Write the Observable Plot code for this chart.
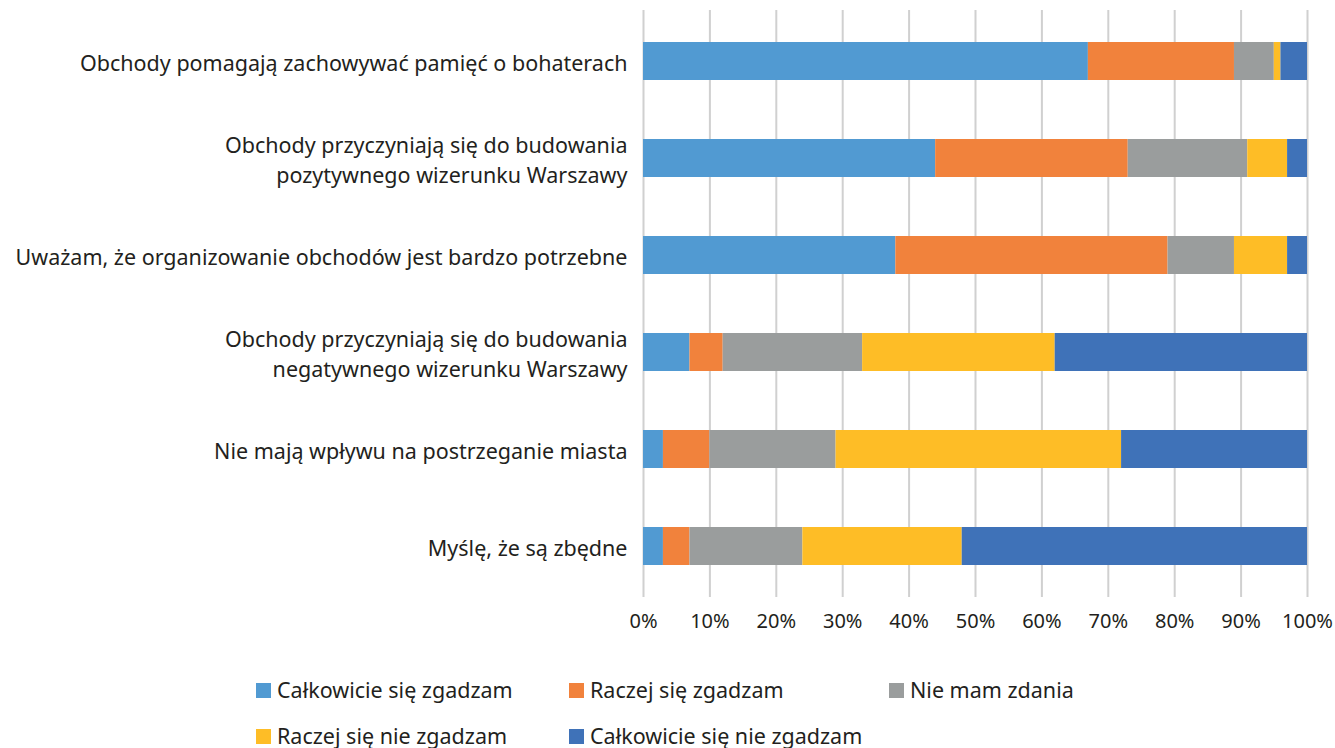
<!DOCTYPE html>
<html>
<head>
<meta charset="utf-8">
<script src="https://cdn.jsdelivr.net/npm/d3@7"></script>
<script src="https://cdn.jsdelivr.net/npm/@observablehq/plot@0.6"></script>
<style>
  html, body { margin: 0; padding: 0; background: #fff; }
  body { width: 1335px; height: 748px; overflow: hidden; font-family: "Noto Sans", sans-serif; color: #231f20; position: relative; }
  #chart svg { display: block; }
  #legend { position: absolute; left: 256px; top: 667px; width: 1050px; font-size: 21.5px; line-height: 26px; }
  .row { display: flex; height: 46px; align-items: center; }
  .item { display: flex; align-items: center; }
  .sw { width: 15px; height: 15px; margin-right: 6px; flex: none; }
</style>
</head>
<body>
<div id="chart"></div>
<div id="legend"></div>
<script>
const categories = [
  "Obchody pomagają zachowywać pamięć o bohaterach",
  "Obchody przyczyniają się do budowania\npozytywnego wizerunku Warszawy",
  "Uważam, że organizowanie obchodów jest bardzo potrzebne",
  "Obchody przyczyniają się do budowania\nnegatywnego wizerunku Warszawy",
  "Nie mają wpływu na postrzeganie miasta",
  "Myślę, że są zbędne"
];
const series = [
  "Całkowicie się zgadzam",
  "Raczej się zgadzam",
  "Nie mam zdania",
  "Raczej się nie zgadzam",
  "Całkowicie się nie zgadzam"
];
const colors = ["#519ad2", "#f1823c", "#9a9d9d", "#febd26", "#3f72b8"];
const calkowicieZgadzam   = [67, 44, 38, 7, 3, 3];
const raczejZgadzam       = [22, 29, 41, 5, 7, 4];
const nieMamZdania        = [6, 18, 10, 21, 19, 17];
const raczejNieZgadzam    = [1, 6, 8, 29, 43, 24];
const calkowicieNieZgadzam= [4, 3, 3, 38, 28, 52];
const xTicks = [0, 10, 20, 30, 40, 50, 60, 70, 80, 90, 100];

const seriesValues = [calkowicieZgadzam, raczejZgadzam, nieMamZdania, raczejNieZgadzam, calkowicieNieZgadzam];
const data = [];
categories.forEach((c, i) => {
  series.forEach((s, j) => data.push({cat: c, series: s, value: seriesValues[j][i]}));
});

const chart = Plot.plot({
  width: 1335,
  height: 645,
  marginLeft: 643,
  marginRight: 28,
  marginTop: 10,
  marginBottom: 48,
  style: {fontFamily: "Noto Sans, sans-serif", fontSize: "20px", color: "#231f20", background: "#fff"},
  x: {domain: [0, 100], ticks: xTicks, tickFormat: d => d + "%", label: null},
  y: {domain: categories, paddingInner: 0.61, paddingOuter: 0.3, label: null},
  color: {domain: series, range: colors},
  marks: [
    Plot.gridX(xTicks, {stroke: "#d0d0d0", strokeWidth: 2, strokeOpacity: 1}),
    Plot.barX(data, Plot.stackX({x: "value", y: "cat", fill: "series", order: series})),
    Plot.axisX({ticks: xTicks, tickSize: 0, tickPadding: 16, fontSize: 20, tickFormat: d => d + "%", label: null}),
    Plot.axisY({tickSize: 0, tickPadding: 16, fontSize: 21.5, lineHeight: 1.4, label: null})
  ]
});
document.getElementById("chart").appendChild(chart);

const legend = document.getElementById("legend");
const rows = [[0, 1, 2], [3, 4]];
const widths = [313, 320, 320];
rows.forEach(r => {
  const row = document.createElement("div");
  row.className = "row";
  r.forEach((j, k) => {
    const it = document.createElement("div");
    it.className = "item";
    it.style.width = widths[k] + "px";
    const sw = document.createElement("div");
    sw.className = "sw";
    sw.style.background = colors[j];
    const t = document.createElement("span");
    t.textContent = series[j];
    it.appendChild(sw); it.appendChild(t);
    row.appendChild(it);
  });
  legend.appendChild(row);
});
</script>
</body>
</html>
